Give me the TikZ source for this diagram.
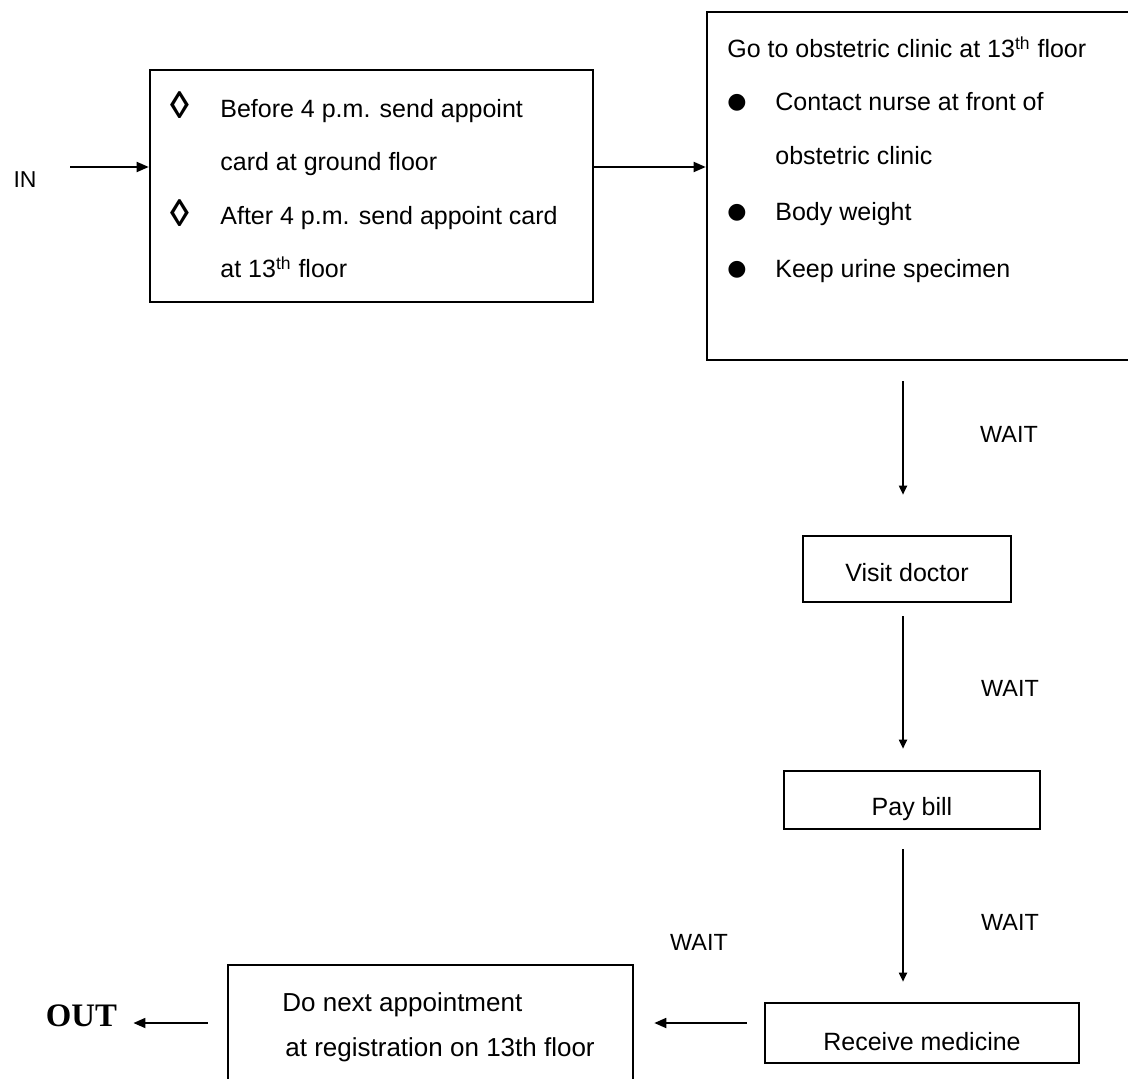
\documentclass[tikz,border=0pt]{standalone}
\usepackage{fontspec}
\setmainfont{Liberation Sans}
\newfontfamily\symfont{DejaVu Sans}
\newfontfamily\outfont{Liberation Serif}
\usetikzlibrary{arrows.meta,fit}
\tikzset{
  box/.style={draw, line width=1.3pt, inner sep=0pt},
  harr/.style={line width=0.9pt, -{Triangle[length=6pt,width=5pt]}},
  varr/.style={line width=0.9pt, -{Triangle[length=4.5pt,width=4pt]}},
  txt/.style={inner sep=0pt, font=\fontsize{12.5}{15}\selectfont},
  lt/.style={txt, anchor=base west},
  ct/.style={txt, anchor=base},
  nt/.style={inner sep=0pt, anchor=base west, font=\fontsize{13}{15}\selectfont},
  waitlbl/.style={inner sep=0pt, anchor=base, font=\fontsize{11.7}{14}\selectfont},
  loz/.style={inner sep=0pt, font=\bfseries\fontsize{19}{21}\selectfont},
  bul/.style={inner sep=0pt, font=\symfont\fontsize{11}{13}\selectfont},
}
\begin{document}
\begin{tikzpicture}[x=0.5pt,y=-0.5pt]
\useasboundingbox (0,0) rectangle (1128,1079);

\coordinate (top) at (0,167);
\coordinate (bot) at (0,1023);
\coordinate (ax) at (903,0);

% boxes
\node[box, fit={(150,70)(593,302)}] (b1) {};
\node[box, fit={(707,12)(1135,360)}] (b2) {};
\node[box, fit={(803,536)(1011,602)}] (vd) {};
\node[box, fit={(784,771)(1040,829)}] (pb) {};
\node[box, fit={(765,1003)(1079,1063)}] (rm) {};
\node[box, fit={(228,965)(633,1100)}] (dn) {};

% IN / OUT
\node[txt, anchor=base, font=\fontsize{11.5}{14}\selectfont] (in) at (25,188) {IN};
\node[inner sep=0pt, anchor=base, font=\outfont\bfseries\fontsize{16.4}{19}\selectfont] (out) at (81.5,1026) {OUT};

% box 1 text
\node[loz] (d1) at (180,105) {◊};
\node[loz] (d2) at (180,213) {◊};
\node[lt] (t1) at (220,118) {Before 4 p.m. send appoint};
\node[lt] (t2) at (220,171) {card at ground floor};
\node[lt] (t3) at (220,225) {After 4 p.m. send appoint card};
\node[lt] (t4) at (220,278) {at 13\textsuperscript{th} floor};

% box 2 text
\node[lt] (g0) at (727,58) {Go to obstetric clinic at 13\textsuperscript{th} floor};
\node[bul] (p1) at (737,103) {●};
\node[bul] (p2) at (737,213) {●};
\node[bul] (p3) at (737,270) {●};
\node[lt] (g1) at (775,111) {Contact nurse at front of};
\node[lt] (g2) at (775,165) {obstetric clinic};
\node[lt] (g3) at (775,221) {Body weight};
\node[lt] (g4) at (775,278) {Keep urine specimen};

% small boxes text
\node[ct] (vdt) at (907,581) {Visit doctor};
\node[ct] (pbt) at (912,815) {Pay bill};
\node[ct] (rmt) at (922,1050) {Receive medicine};
\node[nt] (dn1) at (282,1011) {Do next appointment};
\node[nt] (dn2) at (285,1056) {at registration on 13th floor};

% WAIT labels
\node[waitlbl] (w1) at (1009,443) {WAIT};
\node[waitlbl] (w2) at (1010,696) {WAIT};
\node[waitlbl] (w3) at (1010,930) {WAIT};
\node[waitlbl] (w4) at (699,950) {WAIT};

% connectors
\draw[harr, shorten <=16.75pt] (in.east |- top) -- (b1.west |- top);
\draw[harr] (b1.east |- top) -- (b2.west |- top);
\draw[varr, shorten <=10pt, shorten >=20pt] (b2.south -| ax) -- (vd.north -| ax);
\draw[varr, shorten <=6.5pt, shorten >=10.5pt] (vd.south -| ax) -- (pb.north -| ax);
\draw[varr, shorten <=9.5pt, shorten >=10pt] (pb.south -| ax) -- (rm.north -| ax);
\draw[harr, shorten <=8.5pt, shorten >=10pt] (rm.west |- bot) -- (dn.east |- bot);
\draw[harr, shorten <=9.5pt, shorten >=8pt] (dn.west |- bot) -- (out.east |- bot);
\end{tikzpicture}
\end{document}
